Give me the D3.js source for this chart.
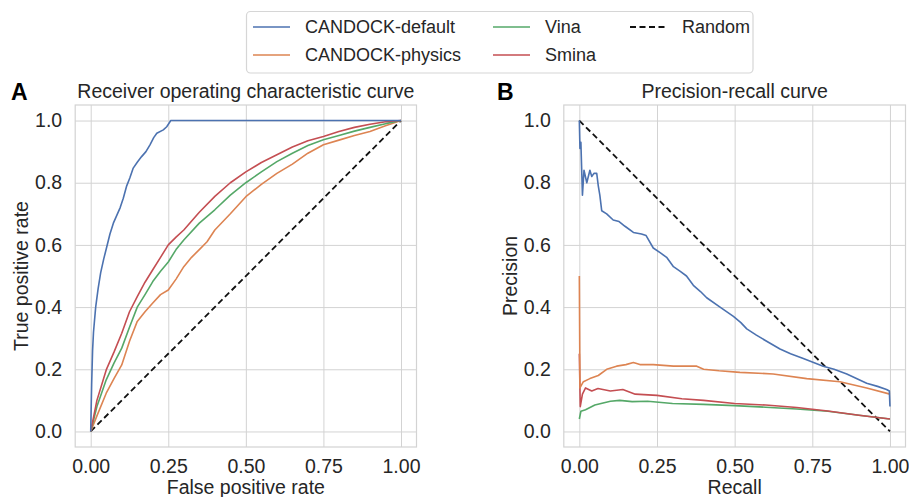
<!DOCTYPE html>
<html>
<head>
<meta charset="utf-8">
<script src="https://cdn.jsdelivr.net/npm/d3@7"></script>
<style>
  body { margin: 0; background: #fff; }
  svg { font-family: "Liberation Sans", Arial, sans-serif; }
  .grid line { stroke: #d3d3d3; stroke-width: 1; }
  .grid .domain { display: none; }
  .tick text { fill: #262626; font-size: 19.5px; }
</style>
</head>
<body>
<svg id="chart"></svg>
<script>
// series names + colours
var names = ["CANDOCK-default", "CANDOCK-physics", "Vina", "Smina"];
var colors = ["#4c72b0", "#dd8452", "#55a868", "#c44e52"];

var xTicks = [0, 0.25, 0.5, 0.75, 1.0];
var yTicks = [0, 0.2, 0.4, 0.6, 0.8, 1.0];

// ROC curves, [fpr, tpr]
var rocDefault = [[0,0],[0.003,0.15],[0.006,0.26],[0.009,0.32],[0.016,0.40],[0.024,0.46],[0.032,0.51],[0.042,0.555],[0.052,0.595],[0.062,0.635],[0.073,0.67],[0.084,0.695],[0.095,0.72],[0.105,0.75],[0.116,0.79],[0.126,0.815],[0.137,0.847],[0.15,0.866],[0.164,0.884],[0.178,0.9],[0.191,0.922],[0.203,0.945],[0.213,0.959],[0.234,0.97],[0.245,0.98],[0.258,1.0],[0.5,1.0],[1.0,1.0]];
var rocPhysics = [[0,0],[0.02,0.05],[0.05,0.123],[0.075,0.17],[0.1,0.214],[0.125,0.29],[0.15,0.354],[0.175,0.385],[0.2,0.413],[0.225,0.44],[0.25,0.455],[0.275,0.49],[0.3,0.53],[0.325,0.56],[0.35,0.585],[0.375,0.61],[0.4,0.648],[0.45,0.7],[0.5,0.755],[0.55,0.795],[0.6,0.83],[0.65,0.86],[0.7,0.895],[0.75,0.922],[0.8,0.937],[0.85,0.952],[0.9,0.965],[0.95,0.983],[1.0,1.0]];
var rocVina = [[0,0],[0.02,0.08],[0.05,0.166],[0.075,0.22],[0.1,0.268],[0.125,0.335],[0.15,0.40],[0.175,0.44],[0.2,0.482],[0.225,0.515],[0.25,0.545],[0.275,0.585],[0.3,0.616],[0.35,0.67],[0.4,0.713],[0.45,0.76],[0.5,0.80],[0.55,0.835],[0.6,0.868],[0.65,0.895],[0.7,0.92],[0.75,0.938],[0.8,0.952],[0.85,0.966],[0.9,0.978],[0.95,0.99],[1.0,1.0]];
var rocSmina = [[0,0],[0.02,0.1],[0.05,0.198],[0.075,0.255],[0.1,0.316],[0.125,0.385],[0.15,0.434],[0.175,0.48],[0.2,0.52],[0.225,0.56],[0.25,0.60],[0.275,0.625],[0.3,0.648],[0.35,0.705],[0.4,0.756],[0.45,0.8],[0.5,0.835],[0.55,0.865],[0.6,0.89],[0.65,0.915],[0.7,0.935],[0.75,0.949],[0.8,0.965],[0.85,0.978],[0.9,0.988],[0.95,0.996],[1.0,1.0]];
var rocRandom = [[0,0],[1,1]];

// precision-recall curves, [recall, precision]
var prDefault = [[0,1.0],[0.002,0.91],[0.005,0.93],[0.01,0.76],[0.015,0.84],[0.024,0.80],[0.034,0.84],[0.04,0.82],[0.047,0.83],[0.056,0.83],[0.061,0.79],[0.066,0.76],[0.072,0.71],[0.088,0.70],[0.109,0.68],[0.128,0.675],[0.147,0.66],[0.174,0.64],[0.2,0.635],[0.215,0.63],[0.238,0.59],[0.26,0.575],[0.281,0.56],[0.303,0.53],[0.325,0.515],[0.345,0.50],[0.367,0.47],[0.39,0.45],[0.41,0.43],[0.453,0.40],[0.496,0.37],[0.52,0.35],[0.539,0.33],[0.57,0.31],[0.603,0.29],[0.646,0.265],[0.68,0.25],[0.721,0.235],[0.785,0.21],[0.82,0.2],[0.861,0.185],[0.925,0.155],[0.96,0.145],[0.989,0.135],[0.998,0.13],[1.0,0.08]];
var prPhysics = [[0,0.5],[0.002,0.14],[0.013,0.16],[0.034,0.17],[0.061,0.18],[0.088,0.2],[0.12,0.21],[0.15,0.215],[0.174,0.222],[0.195,0.215],[0.238,0.215],[0.303,0.21],[0.378,0.21],[0.4,0.2],[0.45,0.195],[0.517,0.19],[0.624,0.185],[0.732,0.17],[0.839,0.16],[0.925,0.14],[1.0,0.12]];
var prVina = [[0,0.04],[0.005,0.065],[0.02,0.07],[0.05,0.085],[0.1,0.097],[0.13,0.1],[0.17,0.096],[0.22,0.097],[0.3,0.09],[0.4,0.087],[0.5,0.083],[0.6,0.078],[0.7,0.072],[0.8,0.065],[0.9,0.052],[1.0,0.04]];
var prSmina = [[0,0.25],[0.003,0.08],[0.01,0.12],[0.02,0.14],[0.04,0.13],[0.06,0.138],[0.1,0.13],[0.14,0.135],[0.18,0.12],[0.25,0.116],[0.33,0.105],[0.4,0.1],[0.5,0.09],[0.6,0.085],[0.7,0.077],[0.8,0.066],[0.9,0.052],[1.0,0.04]];
var prRandom = [[0,1],[1,0]];

var width = 909, height = 497;
var svg = d3.select("#chart").attr("width", width).attr("height", height);

function panel(opts) {
    var x = d3.scaleLinear().domain([-0.05, 1.05]).range([opts.left, opts.right]);
    var y = d3.scaleLinear().domain([-0.05, 1.05]).range([447, 105]);
    var g = svg.append("g");

    // grid + tick labels
    g.append("g").attr("class", "grid")
        .attr("transform", "translate(0,447)")
        .call(d3.axisBottom(x).tickValues(xTicks).tickSize(-342).tickPadding(12)
            .tickFormat(d3.format(".2f")));
    g.append("g").attr("class", "grid")
        .attr("transform", "translate(" + opts.left + ",0)")
        .call(d3.axisLeft(y).tickValues(yTicks).tickSize(-(opts.right - opts.left)).tickPadding(13)
            .tickFormat(d3.format(".1f")));

    g.append("rect")
        .attr("x", opts.left).attr("y", 105)
        .attr("width", opts.right - opts.left).attr("height", 342)
        .attr("fill", "none").attr("stroke", "#d3d3d3").attr("stroke-width", 1.2);

    var line = d3.line().x(d => x(d[0])).y(d => y(d[1]));

    g.append("path")
        .attr("d", line(opts.random))
        .attr("fill", "none").attr("stroke", "#111")
        .attr("stroke-width", 1.8).attr("stroke-dasharray", "6,3.5");

    // series drawn in the given order, colour index kept with each
    opts.series.forEach(s => {
        g.append("path")
            .attr("d", line(s.data))
            .attr("fill", "none")
            .attr("stroke", colors[s.c])
            .attr("stroke-width", 1.6)
            .attr("stroke-linejoin", "round");
    });

    var cx = (opts.left + opts.right) / 2;
    g.append("text").attr("x", cx).attr("y", 98)
        .attr("text-anchor", "middle").attr("fill", "#262626")
        .style("font-size", "19.5px").text(opts.title);
    g.append("text").attr("x", cx).attr("y", 494)
        .attr("text-anchor", "middle").attr("fill", "#262626")
        .style("font-size", "19.5px").text(opts.xlabel);
    g.append("text")
        .attr("transform", "translate(" + opts.ylabelX + ",276) rotate(-90)")
        .attr("text-anchor", "middle").attr("fill", "#262626")
        .style("font-size", "19.5px").text(opts.ylabel);
    g.append("text").attr("x", opts.letterX).attr("y", 100)
        .attr("fill", "#000").style("font-size", "23px").style("font-weight", "bold")
        .text(opts.letter);
}

panel({
    left: 75.2, right: 416.5,
    series: [{data: rocPhysics, c: 1}, {data: rocVina, c: 2}, {data: rocSmina, c: 3}, {data: rocDefault, c: 0}],
    random: rocRandom,
    title: "Receiver operating characteristic curve",
    xlabel: "False positive rate", ylabel: "True positive rate",
    ylabelX: 28, letter: "A", letterX: 11
});

panel({
    left: 563.8, right: 905.5,
    series: [{data: prVina, c: 2}, {data: prSmina, c: 3}, {data: prPhysics, c: 1}, {data: prDefault, c: 0}],
    random: prRandom,
    title: "Precision-recall curve",
    xlabel: "Recall", ylabel: "Precision",
    ylabelX: 517, letter: "B", letterX: 497
});

// legend
var legend = svg.append("g");
legend.append("rect")
    .attr("x", 246.5).attr("y", 11.5).attr("width", 506.5).attr("height", 61.5)
    .attr("rx", 4).attr("fill", "#fff").attr("stroke", "#d6d6d6").attr("stroke-width", 1.2);

var legendItems = [
    {name: names[0], color: colors[0], x: 253, y: 27},
    {name: names[1], color: colors[1], x: 253, y: 55},
    {name: names[2], color: colors[2], x: 493, y: 27},
    {name: names[3], color: colors[3], x: 493, y: 55},
    {name: "Random", color: "#111", x: 630, y: 27, dash: true}
];
var item = legend.selectAll("g.item").data(legendItems).enter().append("g")
    .attr("class", "item")
    .attr("transform", d => "translate(" + d.x + "," + d.y + ")");
item.append("line")
    .attr("x1", 0).attr("x2", 37).attr("y1", 0).attr("y2", 0)
    .attr("stroke", d => d.color)
    .attr("stroke-width", d => d.dash ? 1.8 : 1.6)
    .attr("stroke-dasharray", d => d.dash ? "6,3.5" : null);
item.append("text")
    .attr("x", 52).attr("y", 0).attr("dy", "0.35em")
    .attr("fill", "#262626").style("font-size", "18px")
    .text(d => d.name);
</script>
</body>
</html>
